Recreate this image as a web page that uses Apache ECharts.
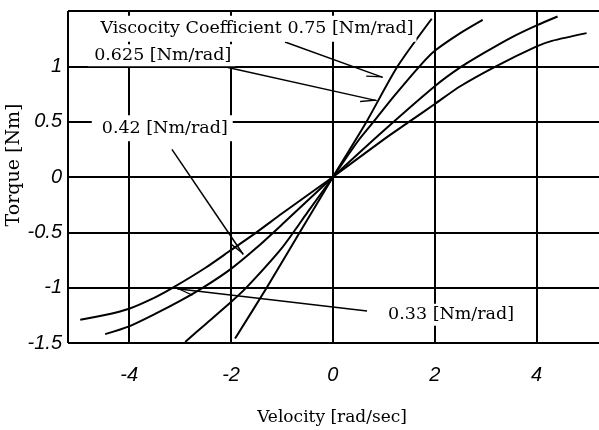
<!DOCTYPE html>
<html>
<head>
<meta charset="utf-8">
<script src="https://cdn.jsdelivr.net/npm/echarts@6/dist/echarts.min.js"></script>
<style>
  html, body { margin: 0; padding: 0; background: #fff; }
  #main { width: 599px; height: 430px; }
</style>
</head>
<body>
<div id="main"></div>
<script>
// curves: velocity [rad/sec] -> torque [Nm]
const velA = [-1.92, -1.3, -0.65, 0, 0.66, 1.27, 1.94];
const torA = [-1.46, -1.0, -0.5, 0, 0.5, 1.0, 1.43];

const velB = [-2.9, -2.5, -2.0, -1.7, -1.0, -0.5, 0, 0.5, 0.8, 1.2, 1.7, 2.0, 2.5, 2.94];
const torB = [-1.49, -1.33, -1.13, -1.0, -0.64, -0.32, 0, 0.33, 0.5, 0.73, 1.0, 1.14, 1.3, 1.42];

const velC = [-4.47, -4.0, -3.5, -3.0, -2.55, -2.0, -1.5, -1.0, 0, 1.0, 2.0, 2.5, 3.0, 3.5, 4.0, 4.41];
const torC = [-1.42, -1.35, -1.24, -1.12, -1.0, -0.83, -0.64, -0.43, 0, 0.42, 0.82, 0.99, 1.13, 1.26, 1.37, 1.45];

const velD = [-4.96, -4.5, -4.0, -3.5, -3.14, -2.5, -2.0, -1.5, -1.0, 0, 1.0, 1.5, 2.0, 2.5, 3.2, 4.0, 4.3, 4.98];
const torD = [-1.29, -1.25, -1.19, -1.09, -1.0, -0.82, -0.66, -0.5, -0.33, 0, 0.34, 0.5, 0.66, 0.82, 1.0, 1.18, 1.23, 1.3];

// annotation texts and where they sit (data units)
const noteText = ["Viscocity Coefficient 0.75 [Nm/rad]", "0.625 [Nm/rad]", "0.42 [Nm/rad]", "0.33 [Nm/rad]"];
const noteX = [-1.56, -3.36, -3.35, 2.32];
const noteY = [1.34, 1.10, 0.44, -1.245];
// arrows: start x, start y, tip x, tip y
const arrowFromX = [-0.94, -2.06, -3.16, 0.67];
const arrowFromY = [1.22, 0.99, 0.25, -1.21];
const arrowToX = [0.98, 0.86, -1.76, -3.06];
const arrowToY = [0.90, 0.69, -0.70, -1.01];
const barbSide = ["r", "r", "r", "l"];

// half arrow head, tip in the middle of the box
const harpoonR = "path://M10 20 L15.2 36 L13.8 36 L9.2 21.5 Z M10 0 L10.05 0 L10 0.05 Z M4.8 40 L4.85 40 L4.8 39.95 Z";
const harpoonL = "path://M10 20 L4.8 36 L6.2 36 L10.8 21.5 Z M10 0 L10.05 0 L10 0.05 Z M15.2 40 L15.15 40 L15.2 39.95 Z";

const pads = [[4, 3, 4, 10], [2, 4, 2, 6], [5, 5, 3, 10], [2, 4, 2, 4]];

const curve = (xs, ys) => ({
  type: "line",
  data: xs.map((x, i) => [x, ys[i]]),
  showSymbol: false,
  smooth: 0.25,
  silent: true,
  lineStyle: { color: "#000", width: 2 },
});

const myChart = echarts.init(document.getElementById("main"));

const seriesD = curve(velD, torD);
seriesD.markLine = {
  silent: true,
  animation: false,
  symbol: ["none", "none"],
  symbolSize: [10.4, 40],
  label: { show: false },
  lineStyle: { color: "#000", width: 1.5, type: "solid" },
  data: arrowFromX.map((x, i) => [
    { coord: [x, arrowFromY[i]], symbol: "none" },
    { coord: [arrowToX[i], arrowToY[i]], symbol: barbSide[i] === "r" ? harpoonR : harpoonL },
  ]),
};
seriesD.markPoint = {
  silent: true,
  animation: false,
  symbol: "rect",
  symbolSize: 1,
  itemStyle: { color: "rgba(0,0,0,0)" },
  data: noteText.map((t, i) => ({
    coord: [noteX[i], noteY[i]],
    label: {
      show: true,
      position: "inside",
      formatter: t,
      color: "#000",
      fontFamily: "DejaVu Serif",
      fontSize: 17.5,
      backgroundColor: "#fff",
      padding: pads[i],
    },
  })),
};

myChart.setOption({
  animation: false,
  grid: { left: 68, top: 11, right: -9, bottom: 87, outerBoundsMode: "none", containLabel: false },
  xAxis: {
    type: "value",
    min: -5.2,
    max: 5.4,
    name: "Velocity [rad/sec]",
    nameLocation: "middle",
    nameGap: 66,
    nameMoveOverlap: false,
    nameTextStyle: { fontFamily: "DejaVu Serif", fontSize: 17, color: "#000", padding: [0, 12, 0, 0] },
    axisLine: { lineStyle: { color: "#000", width: 2 } },
    axisTick: { show: false },
    axisLabel: {
      showMinLabel: false,
      showMaxLabel: false,
      margin: 22,
      fontFamily: "Liberation Sans",
      fontStyle: "italic",
      fontSize: 20,
      color: "#000",
      formatter: (v) => (Math.abs(v % 2) < 1e-9 ? String(v) : ""),
    },
    splitLine: { show: true, lineStyle: { color: "#000", width: 2 } },
  },
  yAxis: {
    type: "value",
    min: -1.5,
    max: 1.5,
    interval: 0.5,
    name: "Torque [Nm]",
    nameLocation: "middle",
    nameGap: 44,
    nameMoveOverlap: false,
    nameTextStyle: { fontFamily: "DejaVu Serif", fontSize: 19, color: "#000", padding: [0, 0, 0, 24] },
    axisLine: { show: true, lineStyle: { color: "#000", width: 2 } },
    axisTick: { show: false },
    axisLabel: {
      margin: 6,
      fontFamily: "Liberation Sans",
      fontStyle: "italic",
      fontSize: 20,
      color: "#000",
      formatter: (v) => (v === 1.5 ? "" : String(v)),
    },
    splitLine: { show: true, lineStyle: { color: "#000", width: 2 } },
  },
  series: [curve(velA, torA), curve(velB, torB), curve(velC, torC), seriesD],
});
</script>
</body>
</html>
